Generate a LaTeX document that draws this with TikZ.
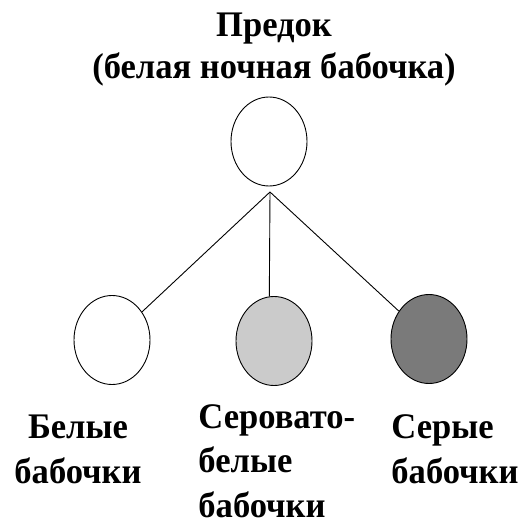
\documentclass[tikz,border=0pt]{standalone}
\usepackage{fontspec}
\setmainfont{Liberation Serif}[FakeStretch=0.96]
\usetikzlibrary{shapes.geometric}
\definecolor{palegrey}{HTML}{CBCBCB}
\definecolor{darkgrey}{HTML}{7A7A7A}

\begin{document}
\begin{tikzpicture}[x=1pt,y=-1pt,line width=0.9pt,main node/.style={ellipse,draw,minimum width=76pt,minimum height=89pt,inner sep=0pt},label text/.style={inner sep=0pt,font=\fontsize{36}{44.5}\selectfont\bfseries}]
            \useasboundingbox (0,0) rectangle (527,524);

            \node[label text, align=center, font=\fontsize{36}{42}\selectfont\bfseries, anchor=base] (0) at (274,79) {Предок\\(белая ночная бабочка)};

            \node[main node] (1) at (269,141.5) {};
            \node[main node] (2) at (112,340) {};
            \node[main node, fill=palegrey] (3) at (274,341) {};
            \node[main node, fill=darkgrey] (4) at (429,339) {};
            \coordinate (fork) at (270,192);

            \node[label text, align=center, anchor=base] (5) at (78,483) {Белые\\бабочки};
            \node[label text, align=left, anchor=base west] (6) at (198,517) {Серовато-\\белые\\бабочки};
            \node[label text, align=left, anchor=base west] (7) at (391,483) {Серые\\бабочки};

            \path[draw]
                (fork) edge (2)
                (fork) edge (3.96)
                (fork) edge (4)
            ;
        \end{tikzpicture}
\end{document}
